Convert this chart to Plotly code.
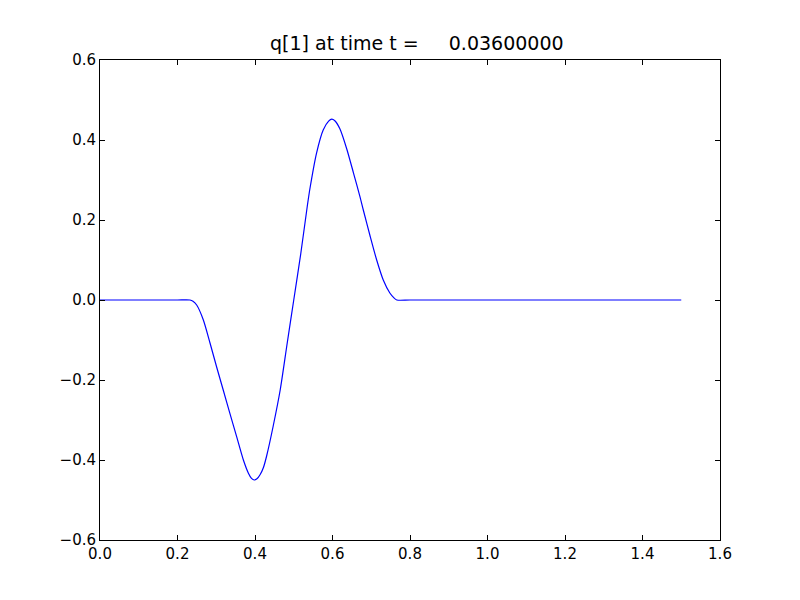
import plotly.graph_objects as go

x_vals = [0.0, 0.1, 0.2, 0.232, 0.24, 0.2495, 0.2667, 0.2839, 0.301, 0.318, 0.335, 0.353,
          0.370, 0.383, 0.391, 0.398, 0.405, 0.413, 0.422, 0.430, 0.447, 0.465, 0.482, 0.50,
          0.518, 0.535, 0.542, 0.559, 0.576, 0.590, 0.598, 0.606, 0.619, 0.637, 0.654,
          0.671, 0.6795, 0.697, 0.714, 0.731, 0.748, 0.758, 0.766, 0.8, 1.0, 1.2, 1.4, 1.5]
y_vals = [0.0, 0.0, 0.0, 0.0, -0.003, -0.0125, -0.05, -0.1075, -0.1675, -0.225, -0.283, -0.343,
          -0.400, -0.433, -0.446, -0.45, -0.447, -0.437, -0.418, -0.390, -0.315, -0.225, -0.115, 0.0,
          0.115, 0.235, 0.28, 0.368, 0.425, 0.447, 0.452, 0.448, 0.428, 0.377, 0.318,
          0.258, 0.225, 0.16, 0.10, 0.05, 0.0175, 0.006, 0.0, 0.0, 0.0, 0.0, 0.0, 0.0]

title_text = "q[1] at time t =     0.03600000"

fig = go.Figure()
fig.add_trace(go.Scatter(x=x_vals, y=y_vals, mode="lines",
                         line=dict(color="#0000ff", width=1.2, shape="spline", smoothing=0.7),
                         showlegend=False, hoverinfo="skip"))

axis_common = dict(showgrid=False, zeroline=False, showline=True, linecolor="black", linewidth=1,
                   mirror="ticks", ticks="inside", ticklen=5, tickcolor="black", tickwidth=1,
                   tickformat=".1f", tickfont=dict(family="DejaVu Sans", size=15, color="black"))

fig.update_layout(
    width=800, height=600,
    margin=dict(l=100, r=80, t=60, b=60),
    paper_bgcolor="white", plot_bgcolor="white",
    title=dict(text=title_text, x=0.511, xref="paper", xanchor="center",
               y=1, yref="paper", yanchor="bottom", pad=dict(b=10),
               font=dict(family="DejaVu Sans", size=19, color="black")),
    xaxis=dict(range=[0, 1.6], dtick=0.2, tick0=0, **axis_common),
    yaxis=dict(range=[-0.6, 0.6], dtick=0.2, tick0=-0.6, **axis_common),
)

fig.write_html("out.html", config={"displayModeBar": False},
               post_script="document.body.style.margin='0';document.body.style.padding='0';")
